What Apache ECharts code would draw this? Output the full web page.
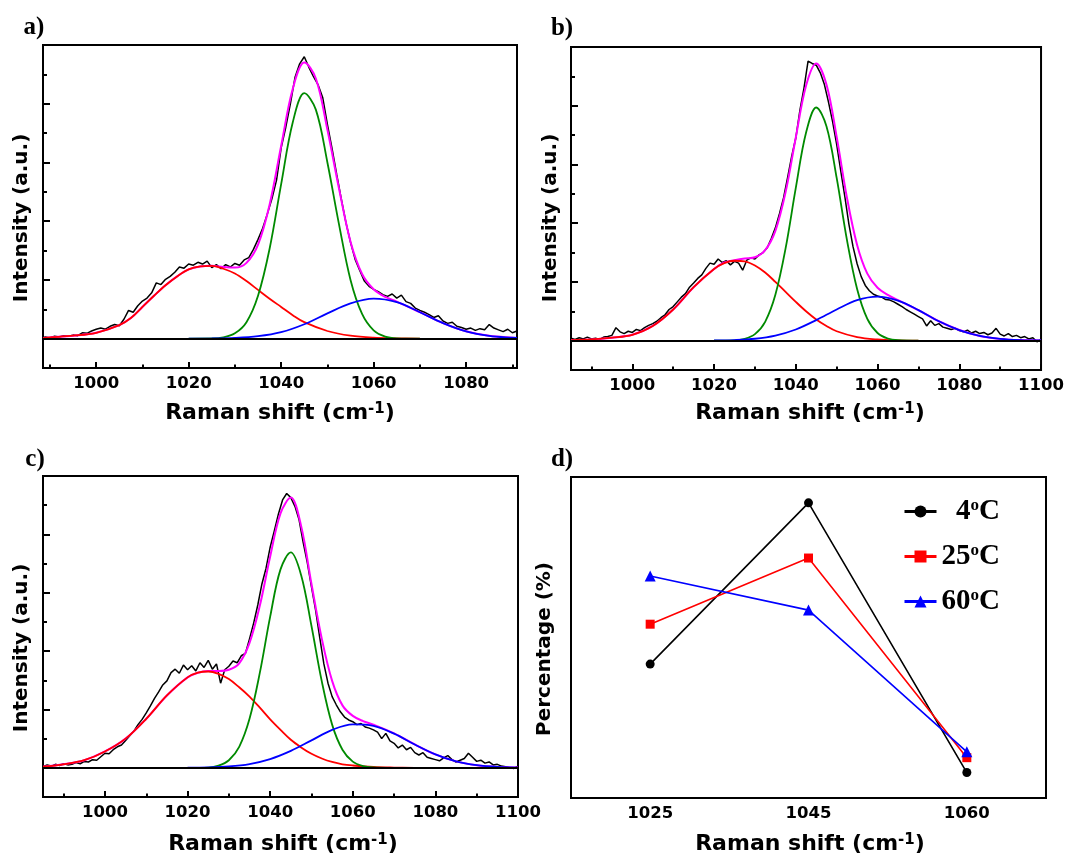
<!DOCTYPE html>
<html><head><meta charset="utf-8">
<script src="https://cdn.jsdelivr.net/npm/echarts@6.0.0/dist/echarts.min.js"></script>
<style>html,body{margin:0;padding:0;background:#fff}#c{width:1067px;height:859px}</style>
</head><body><div id="c"></div><script>
// ---------------- data ----------------
// Panel a
const aBlackStart = 988;
const aBlack = [
 0.0,0.3,0.1,0.4,0.3,0.5,0.4,0.6,0.5,1.0,
 0.9,1.3,1.6,1.8,1.6,2.1,2.4,2.2,3.3,4.8,
 4.5,5.6,6.4,6.9,7.8,9.5,9.2,10.1,10.6,11.3,
 12.2,12.0,12.7,12.5,13.0,12.7,13.2,12.1,12.6,11.9,
 12.6,12.2,12.8,12.5,13.4,13.8,15.2,16.9,18.8,21.2,
 23.8,27.0,32.5,36.0,40.0,44.5,46.8,48.0,46.2,44.6,
 43.2,41.0,36.5,32.4,28.0,23.8,19.8,16.4,13.5,11.6,
 9.8,8.9,8.4,8.0,7.5,7.2,7.6,6.9,7.4,6.3,
 6.0,5.2,4.8,4.5,4.1,3.6,3.9,3.0,2.6,2.8,
 2.1,1.9,1.6,1.8,1.4,1.7,1.5,2.4,1.8,1.5,
 1.2,1.6,1.0,1.3];
const aRed = [[988.5,0.1],[990,0.2],[995,0.5],[1000,1.0],[1005,2.3],[1007.5,3.5],[1010,5.4],[1012.5,7.3],[1015,9.1],[1017.5,10.6],[1020,11.8],[1022.5,12.3],[1025,12.4],[1027.5,11.9],[1030,11.1],[1032.5,9.8],[1035,8.3],[1037.5,6.8],[1040,5.4],[1042.5,4.0],[1045,2.8],[1050,1.3],[1055,0.5],[1060,0.16],[1065,0.05],[1070,0]];
const aGreen = [[1020,0],[1025,0.02],[1027.5,0.2],[1030,0.9],[1032.5,2.8],[1035,7.3],[1037.5,15.3],[1040,26.3],[1042.5,36.8],[1045,41.8],[1047.5,39.0],[1050,30.0],[1052.5,19.5],[1055,10.0],[1057.5,4.2],[1060,1.4],[1062.5,0.35],[1065,0.06],[1070,0]];
const aBlue = [[1020,0],[1025,0.03],[1030,0.12],[1035,0.41],[1040,1.1],[1045,2.45],[1050,4.3],[1055,6.0],[1060,6.8],[1065,6.2],[1070,4.5],[1075,2.65],[1080,1.25],[1085,0.48],[1090,0.15],[1091,0.12]];
const aSum = [[988.5,0.1],[990,0.2],[995,0.5],[1000,1.0],[1005,2.3],[1007.5,3.5],[1010,5.4],[1012.5,7.3],[1015,9.1],[1017.5,10.6],[1020,11.8],[1022.5,12.3],[1025,12.4],[1027.5,12.2],[1030,12.1],[1032.5,12.9],[1035,16.0],[1037.5,22.8],[1040,32.8],[1042.5,42.5],[1045,47.0],[1047.5,44.3],[1050,35.6],[1052.5,25.6],[1055,16.5],[1057.5,11.0],[1060,8.4],[1062.5,7.1],[1065,6.3],[1070,4.5],[1075,2.65],[1080,1.25],[1085,0.48],[1090,0.15],[1091,0.12]];

// Panel b
const bBlackStart = 985;
const bBlack = [
 0.4,0.2,0.5,0.3,0.6,0.3,0.4,0.2,0.6,0.7,
 0.9,2.2,1.5,1.2,1.6,1.4,1.9,1.7,2.2,2.6,
 2.9,3.3,3.9,4.4,5.3,5.8,6.6,7.4,8.0,9.1,
 9.8,10.6,11.2,12.3,13.2,13.0,13.9,13.3,13.6,12.9,
 13.5,13.2,12.0,13.7,14.1,13.9,14.6,15.0,15.8,17.4,
 19.2,21.6,24.3,27.8,31.4,34.5,39.2,43.0,47.6,47.2,
 46.9,45.6,43.6,40.6,37.3,33.4,28.9,24.5,19.8,16.0,
 13.1,10.9,9.4,8.5,7.9,7.6,7.4,7.0,6.9,6.6,
 6.2,5.8,5.3,4.9,4.5,4.1,3.7,2.5,3.4,2.6,
 2.9,2.3,2.1,1.9,2.1,1.7,1.5,1.8,1.3,1.6,
 1.2,1.4,1.0,1.3,2.1,1.1,0.8,1.2,0.7,0.9,
 0.5,0.7,0.3,0.5,-0.2,0.2];
const bRed = [[985,0.1],[990,0.2],[995,0.5],[1000,1.0],[1005,2.5],[1010,5.3],[1015,9.1],[1020,12.2],[1022.5,13.2],[1025,13.6],[1027.5,13.5],[1030,12.8],[1032.5,11.6],[1035,10.0],[1037.5,8.3],[1040,6.6],[1042.5,5.0],[1045,3.6],[1047.5,2.5],[1050,1.6],[1055,0.6],[1060,0.2],[1065,0.05],[1070,0]];
const bGreen = [[1020,0],[1025,0.03],[1027.5,0.3],[1030,1.1],[1032.5,3.2],[1035,7.8],[1037.5,15.7],[1040,26.0],[1042.5,35.4],[1045,39.7],[1047.5,36.5],[1050,27.7],[1052.5,17.2],[1055,8.8],[1057.5,3.7],[1060,1.3],[1062.5,0.36],[1065,0.08],[1070,0]];
const bBlue = [[1020,0.02],[1025,0.1],[1030,0.32],[1035,0.86],[1040,1.9],[1045,3.5],[1050,5.3],[1055,6.9],[1060,7.5],[1065,6.8],[1070,5.2],[1075,3.3],[1080,1.8],[1085,0.8],[1090,0.3],[1095,0.09],[1100,0.03]];
const bSum = [[985,0.1],[990,0.2],[995,0.5],[1000,1.0],[1005,2.5],[1010,5.3],[1015,9.1],[1020,12.2],[1022.5,13.3],[1025,13.7],[1027.5,14.0],[1030,14.2],[1032.5,15.4],[1035,18.7],[1037.5,25.3],[1040,34.6],[1042.5,43.4],[1045,47.2],[1047.5,43.6],[1050,34.7],[1052.5,24.4],[1055,16.3],[1057.5,11.4],[1060,9.0],[1062.5,7.8],[1065,6.9],[1070,5.2],[1075,3.3],[1080,1.8],[1085,0.8],[1090,0.3],[1095,0.09],[1100,0.03]];

// Panel c
const cBlackStart = 985;
const cBlack = [
 0.2,0.5,0.3,0.6,0.4,0.7,0.5,0.6,0.9,0.7,
 1.1,1.0,1.4,1.3,1.9,2.5,2.4,3.1,3.6,3.9,
 4.7,5.5,6.3,7.4,8.3,9.4,10.6,11.9,13.0,14.2,
 14.9,16.3,16.9,16.2,17.6,16.8,17.5,16.6,18.0,17.2,
 18.4,16.9,17.8,14.5,16.8,17.4,18.3,18.0,19.2,19.6,
 22.1,24.8,27.9,31.5,34.2,37.8,40.6,43.5,45.9,47.0,
 46.3,44.8,42.5,38.6,35.1,31.0,27.0,22.3,17.8,14.5,
 12.2,10.8,9.6,8.7,8.2,7.9,7.4,7.6,7.0,6.8,
 6.5,6.1,5.0,5.9,4.6,4.2,3.4,3.9,3.1,3.5,
 2.6,2.2,2.6,1.8,1.6,1.4,1.2,1.7,2.1,1.4,
 1.0,1.3,1.6,2.5,1.8,1.1,1.3,0.8,1.0,0.5,
 0.6,0.3,0.2,0.0,-0.1,0.3];
const cRed = [[985,0.2],[990,0.6],[995,1.3],[1000,2.8],[1005,5.0],[1010,8.4],[1015,12.4],[1020,15.5],[1022.5,16.3],[1025,16.5],[1027.5,16.1],[1030,15.2],[1032.5,13.8],[1035,12.2],[1037.5,10.3],[1040,8.3],[1042.5,6.5],[1045,4.8],[1047.5,3.5],[1050,2.4],[1052.5,1.6],[1055,1.0],[1057.5,0.6],[1060,0.4],[1065,0.15],[1070,0.05],[1075,0]];
const cGreen = [[1020,0],[1025,0.05],[1027.5,0.37],[1030,1.3],[1032.5,3.6],[1035,8.4],[1037.5,16.3],[1040,25.9],[1042.5,34.0],[1045,36.9],[1047.5,33.0],[1050,24.3],[1052.5,14.8],[1055,7.4],[1057.5,3.1],[1060,1.06],[1062.5,0.3],[1065,0.07],[1070,0]];
const cBlue = [[1020,0.02],[1025,0.07],[1030,0.24],[1035,0.65],[1040,1.5],[1045,2.9],[1050,4.7],[1055,6.5],[1060,7.45],[1065,7.2],[1070,5.85],[1075,4.0],[1080,2.3],[1085,1.1],[1090,0.45],[1095,0.15],[1100,0.05]];
const cSum = [[985,0.2],[990,0.6],[995,1.3],[1000,2.8],[1005,5.0],[1010,8.4],[1015,12.4],[1020,15.5],[1022.5,16.3],[1025,16.6],[1027.5,16.6],[1030,16.8],[1032.5,17.9],[1035,21.4],[1037.5,27.8],[1040,36.2],[1042.5,43.6],[1045,46.3],[1047.5,41.4],[1050,31.5],[1052.5,22.1],[1055,14.9],[1057.5,10.7],[1060,8.9],[1062.5,8.0],[1065,7.4],[1070,5.9],[1075,4.0],[1080,2.3],[1085,1.1],[1090,0.45],[1095,0.15],[1100,0.05]];

// Panel d
const dCategories = ['1025','1045','1060'];
const dNames = ['4ºC','25ºC','60ºC'];
const d4C = [32.2, 73.4, 4.5];
const d25C = [42.4, 59.3, 8.3];
const d60C = [54.7, 46.0, 9.8];

// tick values
const aXMajor = [1000,1020,1040,1060,1080];
const aXMinor = [990,1010,1030,1050,1070,1090];
const bcXMajor = [1000,1020,1040,1060,1080,1100];
const bcXMinor = [990,1010,1030,1050,1070,1090];
const specYMajor = [10,20,30,40];
const specYMinor = [5,15,25,35,45];
const dYMajor = [0,10,20,30,40,50,60,70];
const dYMinor = [5,15,25,35,45,55,65,75];

// ---------------- chart ----------------
const chart = echarts.init(document.getElementById('c'), null, {renderer:'canvas'});
const TICK = {fontFamily:'DejaVu Sans', fontWeight:'bold', fontSize:16.5, color:'#000'};
const BLK = {color:'#000', width:2};

const grids = [
  {left:43, top:45, width:474, height:323},
  {left:571, top:47, width:475, height:323},
  {left:43, top:476, width:475, height:321},
  {left:571, top:477, width:475, height:321}
].map(g => Object.assign(g, {show:true, borderColor:'#000', borderWidth:2, containLabel:false}));

function xPair(g, min, max, major, minor) {
  return [
    {type:'value', gridIndex:g, min:min, max:max, position:'bottom',
     axisLine:{onZero:false, lineStyle:BLK},
     axisTick:{inside:true, length:6, customValues:major, lineStyle:BLK},
     axisLabel:Object.assign({customValues:major, margin:7, formatter:v => String(v)}, TICK),
     splitLine:{show:false}},
    {type:'value', gridIndex:g, min:min, max:max, position:'bottom',
     axisLine:{show:false, onZero:false},
     axisTick:{inside:true, length:3.5, customValues:minor, lineStyle:BLK},
     axisLabel:{show:false}, splitLine:{show:false}}
  ];
}
function yPair(g, min, max, major, minor) {
  return [
    {type:'value', gridIndex:g, min:min, max:max, position:'left',
     axisLine:{onZero:false, lineStyle:BLK},
     axisTick:{inside:true, length:7, customValues:major, lineStyle:BLK},
     axisLabel:{show:false}, splitLine:{show:false}},
    {type:'value', gridIndex:g, min:min, max:max, position:'left',
     axisLine:{show:false, onZero:false},
     axisTick:{inside:true, length:4, customValues:minor, lineStyle:BLK},
     axisLabel:{show:false}, splitLine:{show:false}}
  ];
}

const xAxes = [].concat(
  xPair(0, 988.5, 1091, aXMajor, aXMinor),
  xPair(1, 985, 1100, bcXMajor, bcXMinor),
  xPair(2, 985, 1100, bcXMajor, bcXMinor),
  [{type:'category', gridIndex:3, data:dCategories, boundaryGap:true, position:'bottom',
    axisLine:{onZero:false, lineStyle:BLK},
    axisTick:{alignWithLabel:true, inside:true, length:5, lineStyle:BLK},
    axisLabel:Object.assign({margin:7}, TICK), splitLine:{show:false}}]
);
const yAxes = [].concat(
  yPair(0, -5, 50, specYMajor, specYMinor),
  yPair(1, -5, 50, specYMajor, specYMinor),
  yPair(2, -5, 50, specYMajor, specYMinor),
  yPair(3, -2, 80, dYMajor, dYMinor)
);

function toPairs(start, arr) { return arr.map((v, i) => [start + i, v]); }
function line(data, axis, color, width, extra) {
  return Object.assign({type:'line', xAxisIndex:axis, yAxisIndex:axis, data:data,
    symbol:'none', smooth:0.35, lineStyle:{color:color, width:width}, silent:true}, extra || {});
}
function specSeries(k, blackStart, black, red, green, blue, sum) {
  const ax = 2 * k;
  return [
    line(toPairs(blackStart, black), ax, '#000', 1.5, {smooth:false,
      markLine:{silent:true, symbol:'none', label:{show:false},
        lineStyle:{color:'#000', width:2, type:'solid'}, data:[{yAxis:0}]}}),
    line(sum, ax, '#ff00ff', 2),
    line(red, ax, '#ff0000', 1.8),
    line(green, ax, '#008a00', 1.8),
    line(blue, ax, '#0000ff', 1.8)
  ];
}

const dColors = ['#000000','#ff0000','#0000ff'];
const dSymbols = ['circle','rect','triangle'];
const dSizes = [9, 9, 11];
const dData = [d4C, d25C, d60C];
const dSeries = dNames.map((n, i) => ({
  type:'line', name:n, xAxisIndex:6, yAxisIndex:6, data:dData[i],
  symbol:dSymbols[i], symbolSize:dSizes[i],
  lineStyle:{color:dColors[i], width:1.6}, itemStyle:{color:dColors[i]}
}));

const legendText = {'4ºC':'  4{s|o}C', '25ºC':'25{s|o}C', '60ºC':'60{s|o}C'};

const RICH_SUP = {s:{fontSize:15, fontFamily:'DejaVu Sans', fontWeight:'bold', fill:'#000', verticalAlign:'top', lineHeight:14}};
function xTitle(x, y) {
  return {type:'text', x:x, y:y, silent:true, style:{text:'Raman shift (cm{s|-1})', fontSize:22,
    fontFamily:'DejaVu Sans', fontWeight:'bold', fill:'#000', align:'center', verticalAlign:'middle', rich:RICH_SUP}};
}
function yTitle(x, y, t) {
  return {type:'text', x:x, y:y, rotation:Math.PI/2, silent:true, style:{text:t, fontSize:20,
    fontFamily:'DejaVu Sans', fontWeight:'bold', fill:'#000', align:'center', verticalAlign:'middle'}};
}
function panelLabel(x, y, t) {
  return {type:'text', x:x, y:y, silent:true, style:{text:t, fontSize:25,
    fontFamily:'Liberation Serif', fontWeight:'bold', fill:'#000', align:'center', verticalAlign:'middle'}};
}

const option = {
  animation:false,
  backgroundColor:'#fff',
  grid:grids,
  xAxis:xAxes,
  yAxis:yAxes,
  legend:{data:dNames, orient:'vertical', left:898, top:492, itemGap:16, itemWidth:32, itemHeight:15,
    lineStyle:{width:3},
    formatter:n => legendText[n],
    textStyle:{fontFamily:'Liberation Serif', fontWeight:'bold', fontSize:29, color:'#000',
      rich:{s:{fontFamily:'Liberation Serif', fontWeight:'bold', fontSize:17, color:'#000', verticalAlign:'top', lineHeight:16}}}},
  series:[].concat(
    specSeries(0, aBlackStart, aBlack, aRed, aGreen, aBlue, aSum),
    specSeries(1, bBlackStart, bBlack, bRed, bGreen, bBlue, bSum),
    specSeries(2, cBlackStart, cBlack, cRed, cGreen, cBlue, cSum),
    dSeries),
  graphic:{elements:[
    panelLabel(34, 28, 'a)'), panelLabel(562, 29, 'b)'), panelLabel(35, 460, 'c)'), panelLabel(562, 460, 'd)'),
    xTitle(280, 413), xTitle(810, 413), xTitle(283, 844), xTitle(810, 844),
    yTitle(22, 218, 'Intensity (a.u.)'), yTitle(551, 218, 'Intensity (a.u.)'),
    yTitle(22, 648, 'Intensity (a.u.)'), yTitle(545, 649, 'Percentage (%)')
  ]}
};
chart.setOption(option);
</script></body></html>
